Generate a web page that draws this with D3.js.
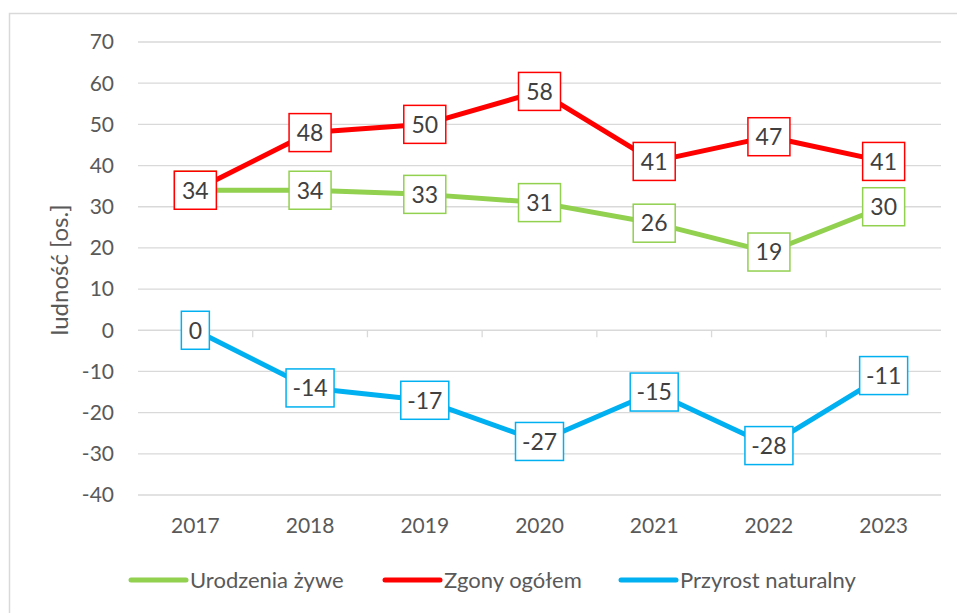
<!DOCTYPE html>
<html lang="pl">
<head>
<meta charset="UTF-8">
<title>Ludność</title>
<style>
  body { margin: 0; background: #fff; }
  svg text { font-family: Lato, "Open Sans", sans-serif; }
</style>
</head>
<body>
<svg id="chart" width="957" height="613"></svg>
<script src="https://d3js.org/d3.v7.min.js"></script>
<script>
// data
var years = ["2017", "2018", "2019", "2020", "2021", "2022", "2023"];
var births = [34, 34, 33, 31, 26, 19, 30];
var deaths = [34, 48, 50, 58, 41, 47, 41];
var growth = [0, -14, -17, -27, -15, -28, -11];
var yTicks = [-40, -30, -20, -10, 0, 10, 20, 30, 40, 50, 60, 70];

var series = [
  { name: "Urodzenia żywe", values: births, color: "#92d050" },
  { name: "Zgony ogółem", values: deaths, color: "#ff0000" },
  { name: "Przyrost naturalny", values: growth, color: "#00b0f0" }
];

var svg = d3.select("#chart");

// outer frame
svg.append("rect")
  .attr("x", 9.5).attr("y", 13.5)
  .attr("width", 960).attr("height", 620)
  .attr("fill", "none").attr("stroke", "#d9d9d9").attr("stroke-width", 1.5);

var x = d3.scaleBand().domain(years).range([138, 941]);
var y = d3.scaleLinear().domain([-40, 70]).range([495, 42]);

// gridlines
svg.append("g").selectAll("line")
  .data(yTicks)
  .join("line")
    .attr("x1", 138).attr("x2", 941)
    .attr("y1", d => y(d)).attr("y2", d => y(d))
    .attr("stroke", "#d9d9d9").attr("stroke-width", 1.3);

// tick marks on the zero line at category boundaries
svg.append("g").selectAll("line")
  .data(years.slice(1))
  .join("line")
    .attr("x1", d => x(d)).attr("x2", d => x(d))
    .attr("y1", y(0)).attr("y2", y(0) + 7)
    .attr("stroke", "#d9d9d9").attr("stroke-width", 1.3);

// y tick labels
svg.append("g").selectAll("text")
  .data(yTicks)
  .join("text")
    .attr("x", 114)
    .attr("y", d => y(d))
    .attr("dy", "0.35em")
    .attr("text-anchor", "end")
    .attr("fill", "#595959")
    .style("font-size", "21px")
    .text(d => d);

// x labels
svg.append("g").selectAll("text")
  .data(years)
  .join("text")
    .attr("x", d => x(d) + x.bandwidth() / 2)
    .attr("y", 526)
    .attr("dy", "0.35em")
    .attr("text-anchor", "middle")
    .attr("fill", "#595959")
    .style("font-size", "21px")
    .text(d => d);

// axis title
svg.append("text")
  .attr("transform", "translate(60,270) rotate(-90)")
  .attr("dy", "0.35em")
  .attr("text-anchor", "middle")
  .attr("fill", "#595959")
  .style("font-size", "24px")
  .text("ludność [os.]");

var line = d3.line()
  .x((d, i) => x(years[i]) + x.bandwidth() / 2)
  .y(d => y(d));

series.forEach(s => {
  svg.append("path")
    .datum(s.values)
    .attr("fill", "none")
    .attr("stroke", s.color)
    .attr("stroke-width", 5)
    .attr("stroke-linejoin", "round")
    .attr("d", line);
});

// data label boxes
series.forEach(s => {
  var g = svg.append("g").selectAll("g")
    .data(s.values)
    .join("g")
      .attr("transform", (d, i) => "translate(" + (x(years[i]) + x.bandwidth() / 2) + "," + y(d) + ")");
  g.append("rect")
    .attr("x", d => String(d).length === 1 ? -14 : (String(d).length === 2 ? -21 : -24))
    .attr("width", d => String(d).length === 1 ? 28 : (String(d).length === 2 ? 42 : 48))
    .attr("y", -19).attr("height", 38)
    .attr("fill", "#fff")
    .attr("stroke", s.color)
    .attr("stroke-width", 1.5);
  g.append("text")
    .attr("text-anchor", "middle")
    .attr("dy", "0.36em")
    .attr("fill", "#404040")
    .style("font-size", "23px")
    .text(d => d);
});

// legend
var legendX = [131, 385, 621];
series.forEach((s, i) => {
  svg.append("line")
    .attr("x1", legendX[i]).attr("x2", legendX[i] + 55)
    .attr("y1", 580).attr("y2", 580)
    .attr("stroke", s.color).attr("stroke-width", 5)
    .attr("stroke-linecap", "round");
  svg.append("text")
    .attr("x", legendX[i] + 59)
    .attr("y", 580)
    .attr("dy", "0.35em")
    .attr("fill", "#595959")
    .style("font-size", "22px")
    .text(s.name);
});
</script>
</body>
</html>
